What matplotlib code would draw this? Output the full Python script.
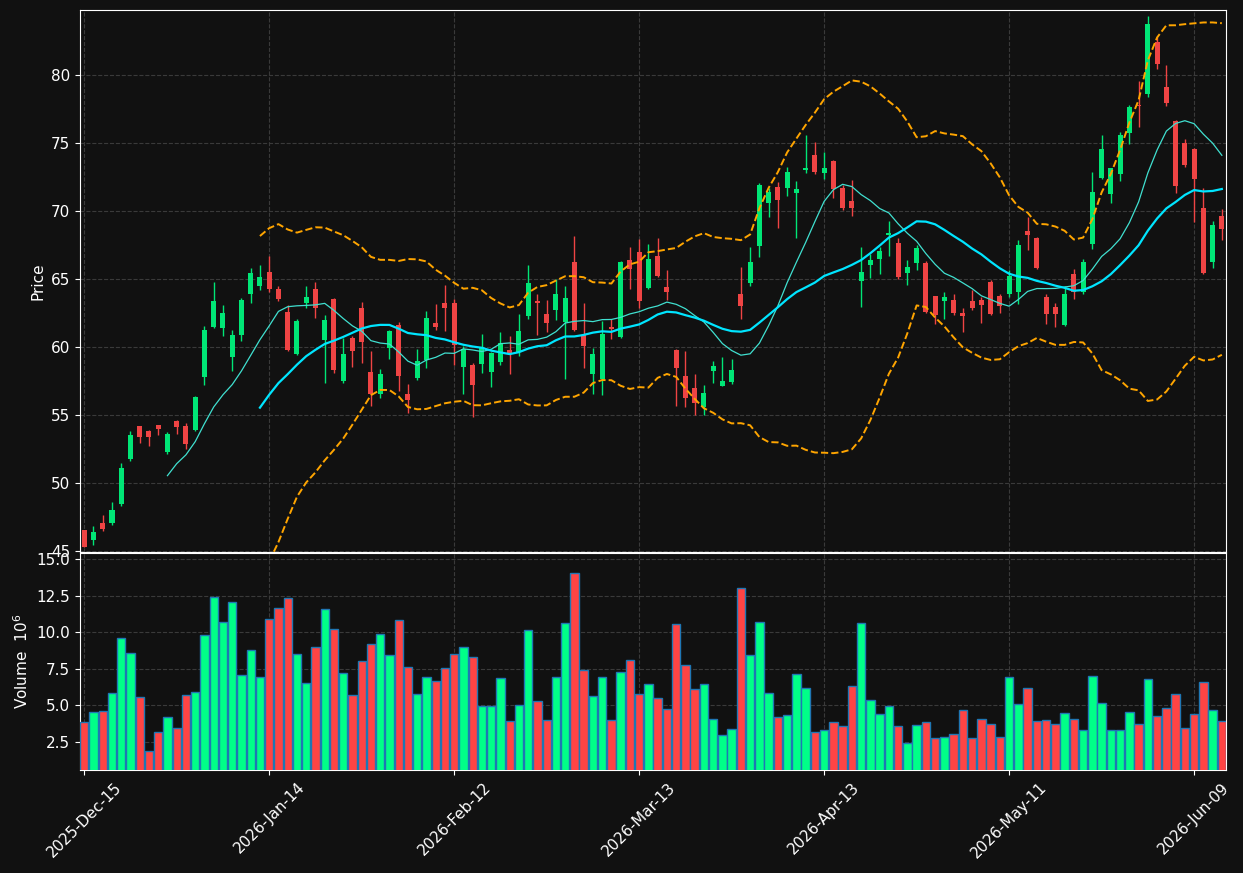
import numpy as np
import pandas as pd
import matplotlib
matplotlib.use('Agg')
import matplotlib.pyplot as plt


# Daily OHLC
#------------------------------------------------------------------------------
opens = [46.57, 45.85, 47.08, 47.10, 48.48, 51.79, 54.21, 53.85, 54.29, 52.32,
         54.58, 54.21, 53.92, 57.84, 61.51, 61.44, 59.31, 60.93, 63.94, 64.53,
         65.54, 64.29, 62.60, 59.51, 63.28, 64.29, 60.54, 63.55, 57.52, 60.68,
         62.89, 58.19, 56.57, 59.97, 61.64, 56.57, 57.74, 59.07, 61.79, 63.28,
         63.28, 58.57, 58.72, 58.79, 58.21, 58.94, 59.78, 59.63, 62.32, 63.40,
         62.43, 62.76, 61.88, 66.27, 60.90, 58.06, 57.69, 61.47, 60.78, 66.42,
         67.01, 64.38, 66.71, 64.43, 59.80, 57.89, 57.01, 55.59, 58.28, 57.18,
         57.47, 63.92, 64.75, 67.47, 70.63, 71.79, 71.74, 71.37, 73.04, 74.16,
         72.82, 73.70, 71.71, 70.76, 64.90, 66.07, 66.51, 68.24, 67.67, 65.49,
         66.22, 66.20, 63.77, 63.42, 63.47, 62.53, 63.40, 63.50, 64.80, 63.77,
         63.94, 64.09, 68.57, 68.01, 63.70, 62.96, 61.62, 65.37, 64.07, 67.62,
         72.47, 71.29, 72.76, 75.76, 77.79, 78.65, 82.44, 79.14, 76.64, 75.02,
         74.58, 70.24, 66.29, 69.63]
highs = [46.60, 46.86, 47.65, 48.63, 51.47, 53.82, 54.25, 53.90, 54.32, 53.77,
         54.62, 54.41, 56.43, 61.54, 64.78, 63.11, 61.27, 63.60, 65.81, 66.07,
         66.71, 64.51, 63.11, 62.08, 64.51, 64.78, 62.35, 63.60, 60.66, 60.83,
         63.33, 59.73, 58.40, 61.27, 61.86, 57.30, 59.87, 62.67, 63.18, 64.58,
         63.53, 60.10, 58.82, 60.96, 59.68, 61.10, 60.81, 62.43, 66.03, 63.90,
         63.46, 65.00, 64.53, 68.16, 63.24, 59.93, 61.96, 62.06, 66.35, 67.35,
         67.99, 67.57, 68.01, 65.66, 59.85, 59.71, 58.01, 57.23, 59.01, 59.26,
         59.16, 65.88, 67.38, 72.08, 71.71, 72.15, 73.26, 72.23, 75.61, 75.07,
         74.34, 73.77, 71.91, 72.30, 67.40, 66.86, 67.40, 69.29, 68.06, 66.40,
         67.52, 66.35, 63.77, 64.10, 63.90, 62.87, 64.19, 63.68, 64.95, 63.94,
         65.71, 67.89, 69.60, 68.10, 63.92, 63.24, 64.53, 65.74, 66.51, 72.87,
         75.61, 73.18, 75.86, 77.82, 79.58, 84.34, 82.83, 80.74, 76.70, 75.32,
         74.62, 71.69, 69.29, 70.15]
lows = [45.30, 45.49, 46.51, 46.91, 48.35, 51.62, 52.94, 52.76, 53.53, 52.13,
        53.60, 52.50, 53.88, 57.25, 61.45, 60.81, 58.28, 60.44, 63.28, 64.19,
        64.10, 63.43, 59.73, 59.41, 62.87, 62.18, 57.35, 58.09, 57.35, 58.57,
        58.87, 55.71, 56.30, 59.12, 56.76, 55.15, 57.60, 58.46, 61.27, 61.22,
        58.70, 56.57, 54.85, 58.09, 57.10, 58.68, 58.01, 59.34, 62.10, 60.88,
        61.10, 61.99, 57.65, 61.20, 58.46, 56.54, 56.47, 60.59, 60.66, 64.26,
        62.87, 64.29, 65.20, 63.48, 55.71, 55.59, 55.00, 55.00, 57.35, 57.15,
        57.30, 62.06, 64.53, 66.62, 69.60, 68.79, 71.15, 68.06, 72.79, 72.72,
        72.35, 71.00, 70.07, 69.65, 62.94, 65.07, 65.37, 66.74, 65.04, 64.56,
        65.66, 62.50, 61.69, 62.10, 62.40, 61.10, 62.75, 61.76, 62.40, 62.54,
        63.70, 63.16, 67.15, 65.74, 61.69, 61.51, 61.55, 63.57, 63.90, 67.25,
        72.35, 70.63, 72.25, 74.93, 76.18, 78.38, 80.44, 77.72, 71.32, 73.24,
        69.24, 65.41, 65.81, 67.87]
closes = [45.34, 46.42, 46.66, 48.04, 51.13, 53.55, 53.43, 53.43, 54.01, 53.63,
          54.16, 52.91, 56.35, 61.27, 63.40, 62.52, 60.90, 63.48, 65.46, 65.17,
          64.31, 63.55, 59.80, 61.93, 63.70, 62.91, 62.01, 58.33, 59.51, 59.73,
          60.39, 56.59, 58.04, 61.20, 57.89, 56.15, 58.99, 62.16, 61.49, 62.89,
          60.17, 59.87, 57.25, 60.02, 59.56, 60.29, 59.51, 61.20, 64.73, 63.24,
          61.81, 63.90, 63.60, 61.27, 60.12, 59.51, 60.98, 61.32, 66.27, 65.78,
          63.43, 66.49, 65.26, 64.09, 58.50, 56.29, 55.93, 56.62, 58.62, 57.52,
          58.33, 63.06, 66.27, 71.93, 71.42, 70.85, 72.89, 71.64, 73.18, 72.89,
          73.18, 71.64, 70.24, 70.26, 65.54, 66.42, 67.08, 68.40, 65.19, 65.90,
          67.30, 62.60, 62.35, 63.71, 62.49, 62.32, 62.91, 63.11, 62.46, 63.06,
          65.24, 67.52, 68.28, 65.83, 62.43, 62.47, 63.92, 64.09, 66.27, 71.42,
          74.58, 73.18, 75.61, 77.67, 77.72, 83.77, 80.82, 77.96, 71.88, 73.43,
          72.40, 65.49, 68.99, 68.72]
# volume in millions of shares
volume = [3.87, 4.55, 4.62, 5.85, 9.61, 8.57, 5.58, 1.88, 3.18, 4.21,
          3.46, 5.71, 5.92, 9.82, 12.42, 10.71, 12.08, 7.08, 8.79, 6.94,
          10.91, 11.67, 12.35, 8.52, 6.54, 9.00, 11.60, 10.23, 7.22, 5.71,
          8.04, 9.20, 9.89, 8.45, 10.84, 7.63, 5.78, 6.94, 6.67, 7.56,
          8.52, 9.00, 8.29, 4.94, 4.94, 6.86, 3.94, 5.01, 10.14, 5.28,
          3.98, 6.93, 10.62, 14.04, 7.40, 5.62, 6.93, 3.98, 7.27, 8.09,
          5.76, 6.45, 5.49, 4.74, 10.55, 7.75, 6.10, 6.45, 4.05, 2.96,
          3.37, 13.01, 8.43, 10.69, 5.83, 4.19, 4.33, 7.13, 6.17, 3.16,
          3.30, 3.85, 3.57, 6.31, 10.62, 5.35, 4.39, 4.94, 3.57, 2.41,
          3.64, 3.85, 2.75, 2.82, 3.03, 4.67, 2.75, 4.05, 3.71, 2.82,
          6.93, 5.08, 6.17, 3.92, 3.98, 3.71, 4.46, 4.05, 3.30, 6.99,
          5.15, 3.30, 3.30, 4.53, 3.71, 6.79, 4.26, 4.81, 5.76, 3.44,
          4.39, 6.58, 4.67, 3.92]

holidays = ['2025-12-25', '2026-01-01', '2026-01-19', '2026-02-16',
            '2026-04-03', '2026-05-25']
dates = pd.bdate_range('2025-12-15', periods=len(closes), freq='C',
                       holidays=holidays)
#------------------------------------------------------------------------------


df = pd.DataFrame({'Open': opens, 'High': highs, 'Low': lows,
                   'Close': closes, 'Volume': volume}, index=dates)

# moving averages + bollinger bands (population std)
df['ma10'] = df['Close'].rolling(10).mean()
df['ma20'] = df['Close'].rolling(20).mean()
sd20 = df['Close'].rolling(20).std(ddof=0)
df['bb_hi'] = df['ma20'] + 2 * sd20
df['bb_lo'] = df['ma20'] - 2 * sd20

x = np.arange(len(df))
up = (df['Close'] >= df['Open']).values
candle_col = np.where(up, '#00e676', '#ef4444')
vol_col = np.where(up, '#00ff88', '#ff4444')

bg = '#111111'
plt.rcParams['font.family'] = 'DejaVu Sans'
fig = plt.figure(figsize=(12.43, 8.73), dpi=100, facecolor=bg)
ax = fig.add_axes([0.0644, 0.3677, 0.9223, 0.6208], facecolor=bg)
axv = fig.add_axes([0.0644, 0.1180, 0.9223, 0.2482], facecolor=bg, sharex=ax)

# candles
#------------------------------------------------------------------------------
ax.vlines(x, df['Low'], df['High'], colors=candle_col, lw=1.0, zorder=3)
body = (df['Close'] - df['Open']).abs().clip(lower=0.06)
ax.bar(x, body, bottom=np.minimum(df['Open'], df['Close']), width=0.55,
       color=candle_col, zorder=4)

ax.plot(x, df['ma10'], color='#40e0d0', lw=0.9, zorder=5)
ax.plot(x, df['ma20'], color='#00e5ff', lw=1.6, zorder=5)
ax.plot(x, df['bb_hi'], color='orange', lw=1.4, ls='--', zorder=5)
ax.plot(x, df['bb_lo'], color='orange', lw=1.4, ls='--', zorder=5)
#------------------------------------------------------------------------------

# volume
axv.bar(x, df['Volume'], width=0.9, color=vol_col, edgecolor='#1f77b4',
        lw=1.0, zorder=3)

# axes cosmetics
#------------------------------------------------------------------------------
ticks = x[::20]
for a in (ax, axv):
    a.grid(True, color='#3a3a3a', ls='--', lw=0.8, zorder=0)
    a.set_axisbelow(True)
    for s in a.spines.values():
        s.set_color('white')
    a.tick_params(colors='white', labelsize=11)
    a.set_xticks(ticks)

ax.set_xlim(-0.45, len(df) - 0.5)
ax.set_ylim(44.95, 84.8)
ax.set_yticks(np.arange(45, 81, 5))
ax.tick_params(axis='x', labelbottom=False, length=0)
ax.set_ylabel('Price', color='white', fontsize=11)

axv.set_ylim(0.585, 15.41)
axv.set_yticks(np.arange(2.5, 15.1, 2.5))
axv.yaxis.set_major_formatter(matplotlib.ticker.FormatStrFormatter('%.1f'))
axv.set_xticklabels([d.strftime('%Y-%b-%d') for d in dates[ticks]],
                    rotation=45, ha='center')
axv.set_ylabel('Volume  $10^{6}$', color='white', fontsize=11)
#------------------------------------------------------------------------------

fig.savefig('out.png', dpi=100, facecolor=bg)
